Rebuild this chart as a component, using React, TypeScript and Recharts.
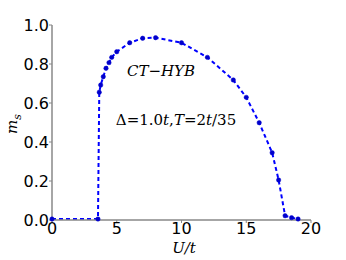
import React from 'react';
import {
  LineChart,
  Line,
  XAxis,
  YAxis,
  Customized,
} from 'recharts';

// U/t values and staggered magnetization m_s
const uValues = [0, 3.55, 3.65, 3.76, 3.96, 4.17, 4.4, 4.61, 5.0, 6.0, 7.0, 8.0, 10.0, 12.0, 14.0, 15.0, 16.0, 17.0, 17.5, 18.0, 18.5, 19.0];
const msValues = [0.005, 0.005, 0.655, 0.692, 0.735, 0.778, 0.807, 0.834, 0.863, 0.909, 0.932, 0.935, 0.909, 0.834, 0.718, 0.629, 0.499, 0.345, 0.205, 0.022, 0.012, 0.005];

const xTicks = [0, 5, 10, 15, 20];
const yTicks = [0, 0.2, 0.4, 0.6, 0.8, 1.0];

const data = uValues.map((u, i) => ({ u, ms: msValues[i] }));

const BLUE = '#0000ff';
const tickFont = { fontFamily: 'DejaVu Sans, sans-serif', fontSize: 16, fill: '#000' };
const mathFont = 'DejaVu Serif, serif';

const Annotations = () => (
  <g>
    <text x={161} y={76} textAnchor="middle" fontFamily={mathFont} fontStyle="italic" fontSize={15} fill="#000">
      CT−HYB
    </text>
    <text x={176} y={125} textAnchor="middle" fontFamily={mathFont} fontSize={15} fill="#000">
      <tspan>Δ=1.0</tspan>
      <tspan fontStyle="italic">t</tspan>
      <tspan>,</tspan>
      <tspan fontStyle="italic">T</tspan>
      <tspan>=2</tspan>
      <tspan fontStyle="italic">t</tspan>
      <tspan>/35</tspan>
    </text>
    <text x={184} y={253} textAnchor="middle" fontFamily={mathFont} fontStyle="italic" fontSize={15} fill="#000">
      U/t
    </text>
    <text transform="translate(17,124) rotate(-90)" textAnchor="middle" fontFamily={mathFont} fontStyle="italic" fontSize={15} fill="#000">
      <tspan>m</tspan>
      <tspan fontSize={11} dy={4}>s</tspan>
    </text>
  </g>
);

export default function App() {
  return (
    <div style={{ position: 'absolute', left: 0, top: 0, width: 346, height: 260, background: '#fff' }}>
      <LineChart width={346} height={260} data={data} margin={{ top: 25, right: 35, bottom: 0, left: 0 }}>
        <XAxis
          dataKey="u"
          type="number"
          domain={[0, 20]}
          ticks={xTicks}
          height={40}
          tick={tickFont}
          tickSize={3}
          tickMargin={0}
          stroke="#888"
          tickLine={{ stroke: '#888' }}
          axisLine={{ stroke: '#888', strokeWidth: 1.5 }}
        />
        <XAxis
          xAxisId="top"
          orientation="top"
          type="number"
          domain={[0, 20]}
          ticks={xTicks}
          height={0}
          mirror
          tickSize={3}
          tickFormatter={() => ''}
          axisLine={{ stroke: '#222', strokeWidth: 1.5 }}
          tickLine={{ stroke: '#888' }}
        />
        <YAxis
          type="number"
          domain={[0, 1]}
          ticks={yTicks}
          width={52}
          tick={tickFont}
          tickSize={3}
          tickMargin={0}
          tickFormatter={v => v.toFixed(1)}
          stroke="#888"
          tickLine={{ stroke: '#888' }}
          axisLine={{ stroke: '#888', strokeWidth: 1.5 }}
        />
        <YAxis
          yAxisId="right"
          orientation="right"
          type="number"
          domain={[0, 1]}
          ticks={yTicks}
          width={0}
          mirror
          tickSize={3}
          tickFormatter={() => ''}
          axisLine={{ stroke: '#222', strokeWidth: 1.5 }}
          tickLine={{ stroke: '#888' }}
        />
        <Line
          type="linear"
          dataKey="ms"
          stroke={BLUE}
          strokeWidth={2}
          strokeDasharray="4 3"
          dot={{ r: 2.2, fill: '#0000cc', stroke: '#0000cc', strokeWidth: 0.5, strokeDasharray: '' }}
          isAnimationActive={false}
        />
        <Customized component={Annotations} />
      </LineChart>
    </div>
  );
}
